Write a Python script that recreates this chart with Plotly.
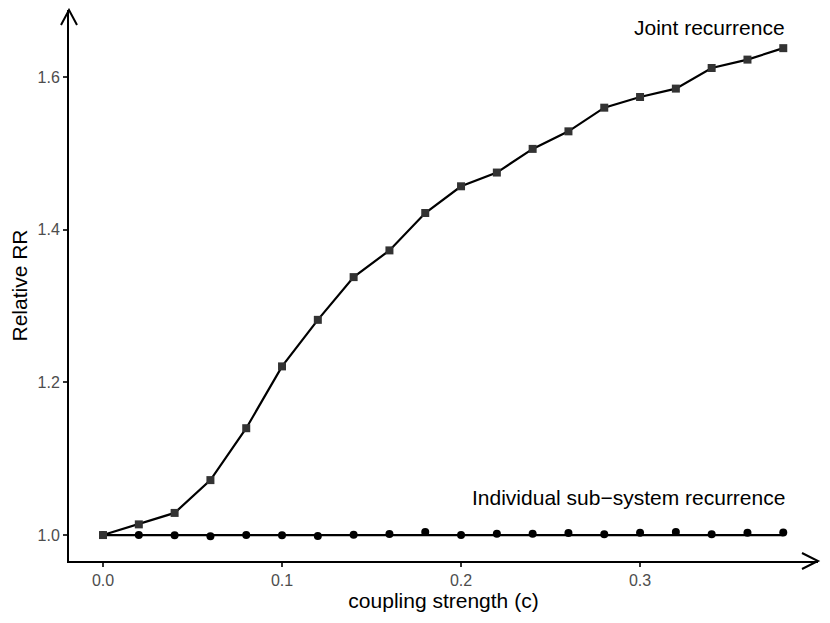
import plotly.graph_objects as go

# coupling strength values
coupling = [0.00, 0.02, 0.04, 0.06, 0.08, 0.10, 0.12, 0.14, 0.16, 0.18,
            0.20, 0.22, 0.24, 0.26, 0.28, 0.30, 0.32, 0.34, 0.36, 0.38]

# relative recurrence rate
joint_rr = [1.000, 1.014, 1.029, 1.072, 1.140, 1.221, 1.282, 1.338, 1.373, 1.422,
            1.457, 1.475, 1.506, 1.529, 1.560, 1.574, 1.585, 1.612, 1.623, 1.638]
indiv_rr = [1.0000, 1.0000, 0.9996, 0.9983, 1.0000, 0.9996, 0.9987, 1.0004, 1.0013, 1.0039,
            1.0000, 1.0017, 1.0017, 1.0026, 1.0009, 1.0030, 1.0039, 1.0009, 1.0030, 1.0035]

baseline_x = [0.0, 0.38]
baseline_y = [1.0, 1.0]

x_ticks = [0.0, 0.1, 0.2, 0.3]
y_ticks = [1.0, 1.2, 1.4, 1.6]

# page body adds ~8px offset, margins compensate for it
W, H = 830, 623
ML, MR, MT, MB = 61, 20, 2, 70

fig = go.Figure()

fig.add_trace(go.Scatter(x=baseline_x, y=baseline_y, mode='lines',
                         line=dict(color='black', width=2.3), hoverinfo='skip'))
fig.add_trace(go.Scatter(x=coupling, y=indiv_rr, mode='markers',
                         marker=dict(symbol='circle', size=8, color='black')))
fig.add_trace(go.Scatter(x=coupling, y=joint_rr, mode='lines+markers',
                         line=dict(color='black', width=2.2),
                         marker=dict(symbol='square', size=8, color='#333333')))

fig.add_annotation(x=0.38, y=1.638, xref='x', yref='y', text='Joint recurrence',
                   showarrow=False, xanchor='right', yanchor='middle', yshift=21, xshift=4,
                   font=dict(size=21, color='black'))
fig.add_annotation(x=0.38, y=1.0, xref='x', yref='y', text='Individual sub\u2212system recurrence',
                   showarrow=False, xanchor='right', yanchor='middle', yshift=38, xshift=4,
                   font=dict(size=21, color='black'))

# open arrow heads at the axis ends
fig.add_shape(type='path', xref='paper', yref='paper',
              xsizemode='pixel', ysizemode='pixel', xanchor=1, yanchor=0,
              path='M -16 8 L 0 0 L -16 -8', line=dict(color='black', width=2))
fig.add_shape(type='path', xref='paper', yref='paper',
              xsizemode='pixel', ysizemode='pixel', xanchor=0, yanchor=1,
              path='M -8 -15 L 0 0 L 8 -15', line=dict(color='black', width=2))

fig.update_xaxes(range=[-0.019, 0.3994], tickvals=x_ticks, ticktext=['0.0', '0.1', '0.2', '0.3'],
                 showline=True, linecolor='black', linewidth=2, showgrid=False, zeroline=False,
                 ticks='outside', ticklen=4, tickwidth=1.5, tickcolor='#333333',
                 tickfont=dict(size=16, color='#4D4D4D'), automargin=False,
                 title=dict(text='coupling strength (c)', font=dict(size=21, color='black'), standoff=4))
fig.update_yaxes(range=[0.966, 1.688], tickvals=y_ticks, ticktext=['1.0', '1.2', '1.4', '1.6'],
                 showline=True, linecolor='black', linewidth=2, showgrid=False, zeroline=False,
                 ticks='outside', ticklen=4, tickwidth=1.5, tickcolor='#333333',
                 tickfont=dict(size=16, color='#4D4D4D'), automargin=False,
                 title=dict(text='Relative RR', font=dict(size=21, color='black'), standoff=6))

fig.update_layout(width=W, height=H, margin=dict(l=ML, r=MR, t=MT, b=MB),
                  plot_bgcolor='white', paper_bgcolor='white', showlegend=False,
                  font=dict(family='Liberation Sans, Arial, sans-serif'))

fig.write_html("out.html")
